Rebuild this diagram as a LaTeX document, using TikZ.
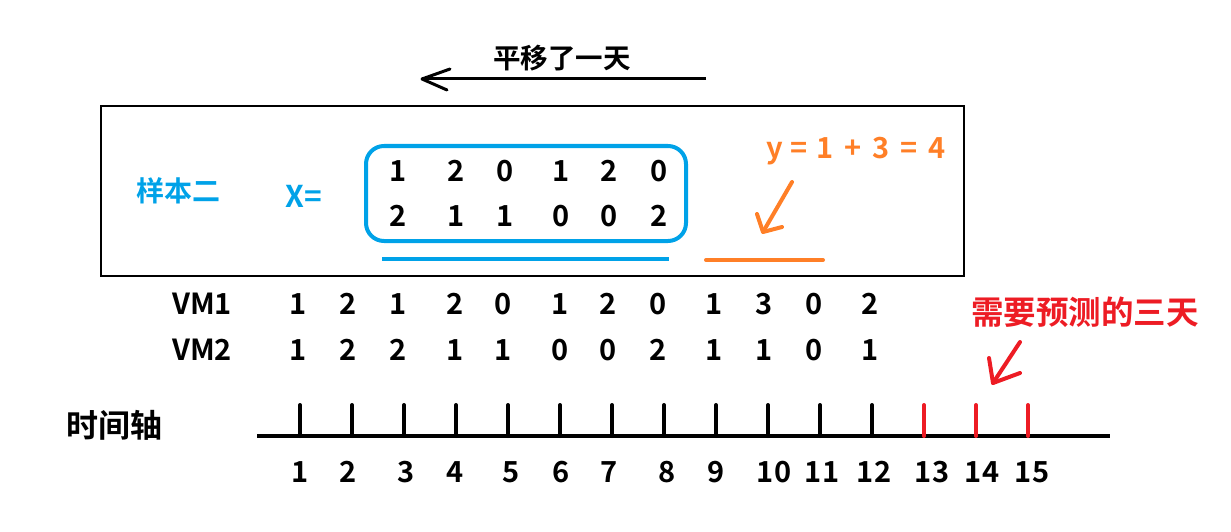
\documentclass[tikz,border=0pt]{standalone}
\usepackage{fontspec}
\setmainfont{Noto Sans CJK SC}[BoldFont={Noto Sans CJK SC Bold}]
\definecolor{pblue}{HTML}{00A2E8}
\definecolor{porange}{HTML}{FF7F27}
\definecolor{pred}{HTML}{ED1C24}
\begin{document}
\begin{tikzpicture}[x=1pt,y=-1pt,
  num/.style={font=\fontsize{29}{32}\selectfont\bfseries, inner sep=0pt, text height=21pt, text depth=0pt},
  cn/.style={font=\fontsize{27.5}{30}\selectfont\bfseries, inner sep=0pt},
  tick/.style={line width=4pt, line cap=round},
  hand/.style={line width=4pt, line cap=round, line join=round}]
\useasboundingbox (0,0) rectangle (1231,532);
% top shift arrow
\node[cn] (shift) at (562,58) {平移了一天};
\coordinate (sa) at (706,79);
\coordinate (sb) at (422,79);
\draw[line width=3pt] (sa) -- (sb);
\draw[line width=3pt, line cap=round, line join=round] (450,69) -- (sb) -- (447,90);
% sample box
\node[draw=black, line width=1.5pt, minimum width=863pt, minimum height=170pt, inner sep=0pt] (box) at (532.5,191) {};
\node[cn, text=pblue, font=\fontsize{28}{30}\selectfont\bfseries] (s2) at (178,191) {样本二};
\node[num, text=pblue, font=\fontsize{30}{32}\selectfont\bfseries] (X) at (304,197) {X=};
\node[draw=pblue, line width=4pt, rounded corners=18pt, minimum width=320pt, minimum height=95pt] (mat) at (526,193.5) {};
\foreach \v [count=\i] in {1,2,0,1,2,0} {
  \pgfmathsetmacro{\xx}{{398,456,505,561,609,659}[\i-1]}
  \node[num] (ma\i) at (\xx,171) {\v};
}
\foreach \v [count=\i] in {2,1,1,0,0,2} {
  \pgfmathsetmacro{\xx}{{398,456,505,561,609,659}[\i-1]}
  \node[num] (mb\i) at (\xx,216) {\v};
}
\coordinate (bl1) at (382,259); \coordinate (bl2) at (669,259);
\draw[pblue, line width=4pt] (bl1) -- (bl2);
\coordinate (ol1) at (706,260); \coordinate (ol2) at (823,260);
\draw[porange, hand] (ol1) -- (ol2);
\node[num, text=porange] (y) at (856,148) {y\hspace{0.28em}=\hspace{0.28em}1\hspace{0.38em}+\hspace{0.38em}3\hspace{0.38em}=\hspace{0.38em}4};
\coordinate (oa1) at (792,182); \coordinate (oa2) at (763,232);
\draw[porange, hand] (oa1) -- (oa2);
\draw[porange, hand] (757,214) -- (oa2) -- (782,227);
% VM rows
\node[num] (vm1) at (202,304) {VM1};
\node[num] (vm2) at (202,350) {VM2};
\foreach \v [count=\i] in {1,2,1,2,0,1,2,0,1,3,0,2} {
  \pgfmathsetmacro{\xx}{{298,348,398,455,503,560,608,658,714,764,814,870}[\i-1]}
  \node[num] (va\i) at (\xx,304) {\v};
}
\foreach \v [count=\i] in {1,2,2,1,1,0,0,2,1,1,0,1} {
  \pgfmathsetmacro{\xx}{{298,348,398,455,503,560,608,658,714,764,814,870}[\i-1]}
  \node[num] (vb\i) at (\xx,350) {\v};
}
% prediction label
\node[cn, text=pred, font=\fontsize{32.5}{34}\selectfont\bfseries] (pred) at (1085,312) {需要预测的三天};
\coordinate (ra1) at (1020,342); \coordinate (ra2) at (993,383);
\draw[pred, hand] (ra1) -- (ra2);
\draw[pred, hand] (989,358) -- (ra2) -- (1020,373);
% time axis
\node[cn, font=\fontsize{32}{34}\selectfont\bfseries] (axis) at (114,425) {时间轴};
\coordinate (ax1) at (257,436); \coordinate (ax2) at (1110,436);
\draw[line width=4pt] (ax1) -- (ax2);
\foreach \i in {1,...,12} {
  \draw[tick] (248+52*\i,405) -- (248+52*\i,436);
}
\foreach \i in {13,14,15} {
  \draw[tick, pred] (248+52*\i,405) -- (248+52*\i,436);
}
\foreach \v [count=\i] in {300,348,406,455,511,561,609,667,716,774,822,874,932,982,1032} {
  \node[num] (t\i) at (\v,472) {\i};
}
\end{tikzpicture}
\end{document}
